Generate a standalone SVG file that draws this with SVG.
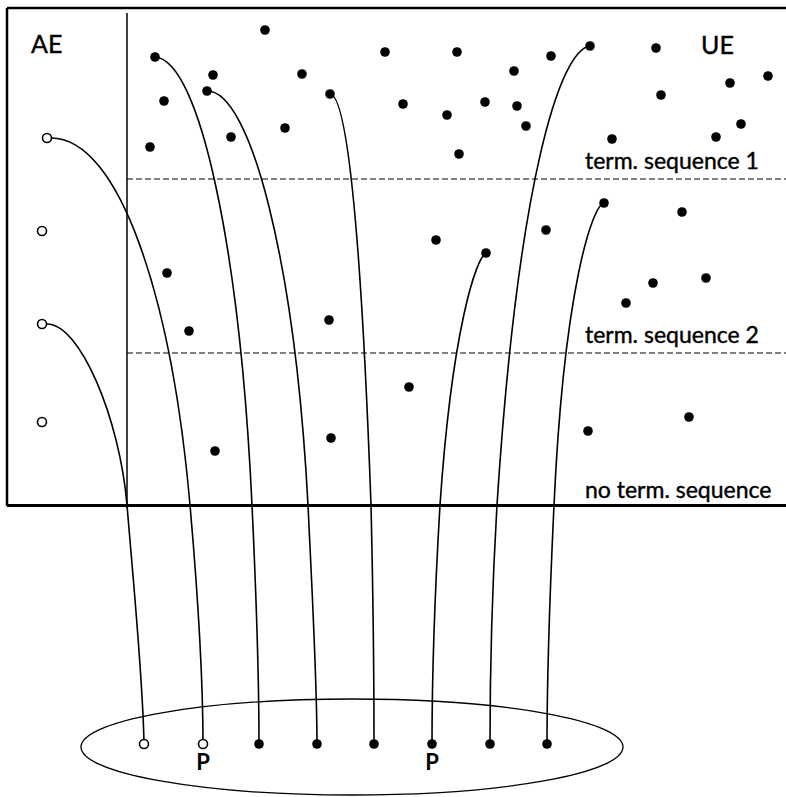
<svg xmlns="http://www.w3.org/2000/svg" width="786" height="797" viewBox="0 0 786 797">
<style>
.frame{fill:none;stroke:#000;stroke-width:2.5}
.div{fill:none;stroke:#000;stroke-width:1.5}
.dash{fill:none;stroke:#000;stroke-width:1.1;stroke-dasharray:6 3}
.con{fill:none;stroke:#000;stroke-width:1.6}
.dot{fill:#000}
.open{fill:#fff;stroke:#000;stroke-width:1.6}
.lbl{font-family:Lato,"Liberation Sans",sans-serif;fill:#000;stroke:#000;stroke-width:0.4}
.big{font-size:25px}
.seq{font-size:23px}
.p{font-size:22px;font-weight:bold;stroke-width:0}
</style>
<rect width="786" height="797" fill="#fff"/>
<g id="frame">
<path class="frame" d="M7,8 H786 M7,8 V506"/>
<path class="frame" d="M7,505.5 H786" style="stroke-width:3"/>
<path class="div" d="M127,13 V508"/>
<path class="dash" d="M127,179 H786"/>
<path class="dash" d="M127,353 H786"/>
</g>
<g id="labels">
<text class="lbl big" x="31" y="53">AE</text>
<text class="lbl big" x="701" y="54">UE</text>
<text class="lbl seq" x="585" y="169">term. sequence 1</text>
<text class="lbl seq" x="585" y="343">term. sequence 2</text>
<text class="lbl seq" x="585" y="498">no term. sequence</text>
</g>
<g id="connectors">
<path class="con" d="M46,324 C80,322 120,420 127,505 C134,590 143,680 144,744"/>
<path class="con" d="M51,138 C120,138 172,300 190,505 C197,585 203,680 203,744"/>
<path class="con" d="M155,57 C200,60 240,250 252,505 C256,590 259,680 259,744"/>
<path class="con" d="M207,91 C250,90 295,260 308,505 C312,590 317,680 317,744"/>
<path class="con" d="M330,94 C345,95 360,200 371,505 C373,590 374,680 374,744"/>
<path class="con" d="M486,253 C476,258 452,330 440,505 C435,590 432,680 432,744"/>
<path class="con" d="M590,46 C560,50 518,180 497,505 C492,590 490,680 490,744"/>
<path class="con" d="M604,203 C592,206 564,290 554,505 C550,590 547,680 547,744"/>
</g>
<g id="set">
<ellipse fill="none" stroke="#000" stroke-width="1.3" cx="352" cy="747" rx="271" ry="48"/>
</g>
<g id="ae-nodes">
<circle class="open" cx="47" cy="138" r="4.5"/>
<circle class="open" cx="42" cy="231" r="4.5"/>
<circle class="open" cx="42" cy="324" r="4.5"/>
<circle class="open" cx="42" cy="422" r="4.5"/>
</g>
<g id="ue-nodes">
<circle class="dot" cx="265" cy="30" r="4.8"/>
<circle class="dot" cx="155" cy="57" r="4.8"/>
<circle class="dot" cx="213" cy="75" r="4.8"/>
<circle class="dot" cx="302" cy="74" r="4.8"/>
<circle class="dot" cx="385" cy="52" r="4.8"/>
<circle class="dot" cx="164" cy="101" r="4.8"/>
<circle class="dot" cx="207" cy="91" r="4.8"/>
<circle class="dot" cx="330" cy="94" r="4.8"/>
<circle class="dot" cx="403" cy="104" r="4.8"/>
<circle class="dot" cx="285" cy="128" r="4.8"/>
<circle class="dot" cx="231" cy="137" r="4.8"/>
<circle class="dot" cx="150" cy="147" r="4.8"/>
<circle class="dot" cx="457" cy="52" r="4.8"/>
<circle class="dot" cx="551" cy="56" r="4.8"/>
<circle class="dot" cx="590" cy="46" r="4.8"/>
<circle class="dot" cx="656" cy="48" r="4.8"/>
<circle class="dot" cx="514" cy="71" r="4.8"/>
<circle class="dot" cx="768" cy="76" r="4.8"/>
<circle class="dot" cx="730" cy="83" r="4.8"/>
<circle class="dot" cx="661" cy="95" r="4.8"/>
<circle class="dot" cx="447" cy="115" r="4.8"/>
<circle class="dot" cx="485" cy="102" r="4.8"/>
<circle class="dot" cx="517" cy="106" r="4.8"/>
<circle class="dot" cx="526" cy="126" r="4.8"/>
<circle class="dot" cx="741" cy="124" r="4.8"/>
<circle class="dot" cx="716" cy="137" r="4.8"/>
<circle class="dot" cx="612" cy="139" r="4.8"/>
<circle class="dot" cx="459" cy="154" r="4.8"/>
<circle class="dot" cx="604" cy="203" r="4.8"/>
<circle class="dot" cx="682" cy="212" r="4.8"/>
<circle class="dot" cx="546" cy="230" r="4.8"/>
<circle class="dot" cx="436" cy="240" r="4.8"/>
<circle class="dot" cx="486" cy="253" r="4.8"/>
<circle class="dot" cx="167" cy="273" r="4.8"/>
<circle class="dot" cx="189" cy="331" r="4.8"/>
<circle class="dot" cx="329" cy="320" r="4.8"/>
<circle class="dot" cx="653" cy="283" r="4.8"/>
<circle class="dot" cx="706" cy="278" r="4.8"/>
<circle class="dot" cx="626" cy="303" r="4.8"/>
<circle class="dot" cx="215" cy="451" r="4.8"/>
<circle class="dot" cx="331" cy="438" r="4.8"/>
<circle class="dot" cx="409" cy="387" r="4.8"/>
<circle class="dot" cx="689" cy="417" r="4.8"/>
<circle class="dot" cx="588" cy="431" r="4.8"/>
</g>
<g id="set-nodes">
<circle class="open" cx="144" cy="744" r="4.5"/>
<circle class="open" cx="203" cy="744" r="4.5"/>
<circle class="dot" cx="259" cy="744" r="4.8"/>
<circle class="dot" cx="317" cy="744" r="4.8"/>
<circle class="dot" cx="374" cy="744" r="4.8"/>
<circle class="dot" cx="432" cy="744" r="4.8"/>
<circle class="dot" cx="490" cy="744" r="4.8"/>
<circle class="dot" cx="547" cy="744" r="4.8"/>
<text class="lbl p" x="203" y="770" text-anchor="middle">P</text>
<text class="lbl p" x="432" y="770" text-anchor="middle">P</text>
</g>
</svg>
